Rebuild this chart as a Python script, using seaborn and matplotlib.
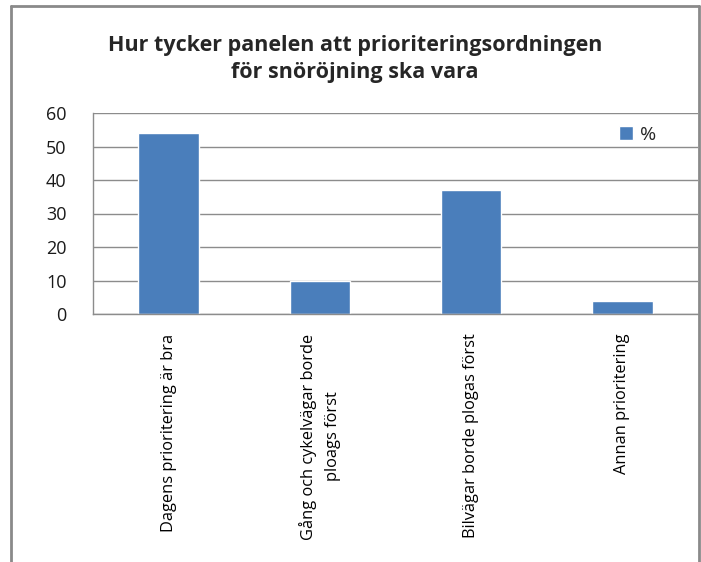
import numpy as np
import pandas as pd
import matplotlib
matplotlib.use("Agg")
import matplotlib.pyplot as plt
from matplotlib.lines import Line2D
from matplotlib.patches import Patch
import seaborn as sns

# Datos
categorias = [
    "Dagens prioritering är bra",
    "Gång och cykelvägar borde\nploags först",
    "Bilvägar borde plogas först",
    "Annan prioritering",
]
porcentajes = [54, 10, 37, 4]
y_ticks = [0, 10, 20, 30, 40, 50, 60]
titulo = "Hur tycker panelen att prioriteringsordningen\nför snöröjning ska vara"
serie = "%"

sns.set_style("white")
plt.rcParams['font.family'] = ['Open Sans', 'DejaVu Sans']

azul = "#4a7ebb"
gris = "#8c8c8c"

df = pd.DataFrame({"Kategori": categorias, "Procent": porcentajes})

fig = plt.figure(figsize=(7.01, 5.62), dpi=100)
ax = fig.add_axes([93 / 701, 1 - 314 / 562, 605 / 701, 201 / 562])

sns.barplot(data=df, x="Kategori", y="Procent", color=azul, width=0.4,
            saturation=1, errorbar=None, ax=ax)

# Ejes y rejilla
ax.set_ylim(0, 60)
ax.set_xlim(-0.5, len(categorias) - 0.5)
ax.set_yticks(y_ticks)
ax.yaxis.grid(True, color=gris, linewidth=1)
ax.set_axisbelow(True)
for lado in ["top", "right"]:
    ax.spines[lado].set_visible(False)
for lado in ["left", "bottom"]:
    ax.spines[lado].set_color(gris)
    ax.spines[lado].set_linewidth(1)

ax.tick_params(axis="y", length=7, width=1, color=gris, pad=12, labelsize=13,
               labelcolor="#1a1a1a")
ax.set_xticks(range(len(categorias)))
ax.set_xticklabels(categorias, rotation=90, va="top", ha="center",
                   multialignment="center", linespacing=1.65)
ax.tick_params(axis="x", which="major", length=0, pad=14, labelsize=11.8,
               labelcolor="#000000")
ax.set_xticks(np.arange(-0.5, len(categorias)), minor=True)
ax.tick_params(axis="x", which="minor", length=4.5, width=1, color=gris)
ax.set_xlabel("")
ax.set_ylabel("")

# Leyenda
ax.legend(handles=[Patch(facecolor=azul, label=serie)], loc="center left",
          bbox_to_anchor=((619 - 93) / 605, (314 - 135) / 201), frameon=False,
          fontsize=14, borderpad=0, borderaxespad=0,
          handlelength=0.72, handleheight=0.72, handletextpad=0.35)

# Título
fig.text(355 / 701, 1 - 59 / 562, titulo, ha="center", va="center",
         fontsize=15.5, fontweight="bold", linespacing=1.4)

# Marco del gráfico
x0, x1 = 11 / 701, 699 / 701
y_top = 1 - 6 / 562
for xs, ys in [([x0, x0], [0, y_top]), ([x0, x1], [y_top, y_top]),
               ([x1, x1], [y_top, 0])]:
    fig.add_artist(Line2D(xs, ys, color="#8a8a8a", linewidth=2,
                          transform=fig.transFigure))

plt.savefig("out.png", dpi=100)
